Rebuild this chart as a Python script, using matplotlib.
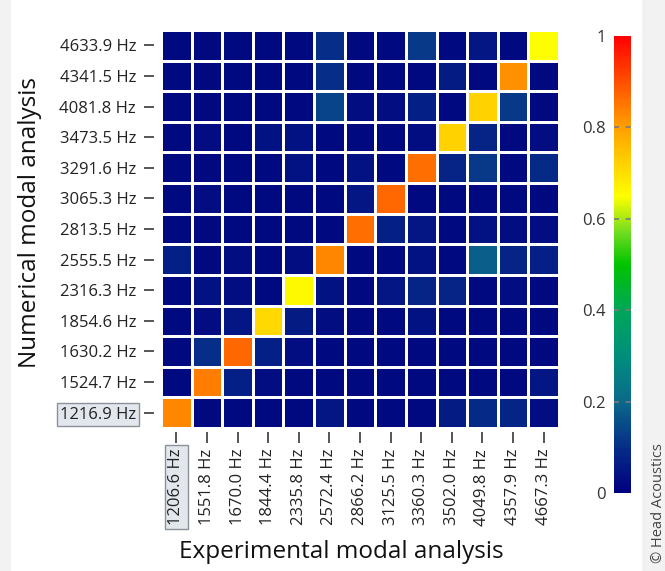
import numpy as np
import matplotlib
matplotlib.use("Agg")
from matplotlib import pyplot as plt
from matplotlib.colors import LinearSegmentedColormap
from matplotlib.patches import Rectangle
from matplotlib.lines import Line2D

plt.rcParams['font.family'] = ['Open Sans', 'DejaVu Sans']

# numerical modes (rows, bottom to top) and experimental modes (columns)
num_modes = ["1216.9 Hz", "1524.7 Hz", "1630.2 Hz", "1854.6 Hz", "2316.3 Hz",
             "2555.5 Hz", "2813.5 Hz", "3065.3 Hz", "3291.6 Hz", "3473.5 Hz",
             "4081.8 Hz", "4341.5 Hz", "4633.9 Hz"]
exp_modes = ["1206.6 Hz", "1551.8 Hz", "1670.0 Hz", "1844.4 Hz", "2335.8 Hz",
             "2572.4 Hz", "2866.2 Hz", "3125.5 Hz", "3360.3 Hz", "3502.0 Hz",
             "4049.8 Hz", "4357.9 Hz", "4667.3 Hz"]

# MAC values, one row per numerical mode (same order as num_modes)
mac = [
    [0.83, 0.02, 0.02, 0.02, 0.02, 0.05, 0.02, 0.02, 0.02, 0.06, 0.09, 0.08, 0.03],
    [0.02, 0.84, 0.07, 0.03, 0.02, 0.02, 0.02, 0.02, 0.02, 0.02, 0.02, 0.02, 0.05],
    [0.02, 0.10, 0.87, 0.07, 0.03, 0.02, 0.02, 0.02, 0.02, 0.02, 0.02, 0.02, 0.02],
    [0.02, 0.03, 0.05, 0.71, 0.06, 0.03, 0.02, 0.02, 0.04, 0.02, 0.02, 0.02, 0.02],
    [0.02, 0.04, 0.03, 0.02, 0.66, 0.04, 0.02, 0.05, 0.08, 0.08, 0.02, 0.03, 0.02],
    [0.07, 0.02, 0.03, 0.02, 0.03, 0.83, 0.02, 0.02, 0.04, 0.02, 0.18, 0.08, 0.07],
    [0.02, 0.02, 0.02, 0.02, 0.02, 0.02, 0.86, 0.07, 0.05, 0.02, 0.04, 0.03, 0.03],
    [0.02, 0.03, 0.02, 0.02, 0.02, 0.02, 0.05, 0.87, 0.02, 0.02, 0.02, 0.02, 0.02],
    [0.02, 0.02, 0.02, 0.02, 0.04, 0.02, 0.04, 0.02, 0.86, 0.08, 0.12, 0.02, 0.09],
    [0.02, 0.03, 0.02, 0.04, 0.04, 0.02, 0.02, 0.02, 0.03, 0.72, 0.08, 0.02, 0.03],
    [0.02, 0.02, 0.02, 0.02, 0.02, 0.14, 0.03, 0.03, 0.07, 0.02, 0.72, 0.12, 0.02],
    [0.02, 0.02, 0.02, 0.02, 0.02, 0.10, 0.02, 0.02, 0.02, 0.06, 0.02, 0.82, 0.02],
    [0.02, 0.02, 0.02, 0.02, 0.02, 0.10, 0.02, 0.02, 0.12, 0.02, 0.05, 0.02, 0.65],
]

cbar_ticks = [0, 0.2, 0.4, 0.6, 0.8, 1]

cmap = LinearSegmentedColormap.from_list("mac", [
    (0.0, "#00007f"), (0.1, "#062e88"), (0.2, "#0a6a8a"), (0.3, "#008f7c"),
    (0.4, "#00a658"), (0.5, "#00c400"), (0.57, "#70dc20"), (0.65, "#ffff00"),
    (0.8, "#ffa000"), (1.0, "#ff0000")])

W, H = 665, 571
fig = plt.figure(figsize=(W / 100, H / 100), dpi=100)

# light side strips of the screenshot frame
fig.patches.append(Rectangle((642 / W, 0), 1, 1, transform=fig.transFigure,
                             fc="#f2f2f2", ec="none", zorder=-5))
fig.patches.append(Rectangle((0, 0), 11 / W, 1, transform=fig.transFigure,
                             fc="#f2f2f2", ec="none", zorder=-5))

ax = fig.add_axes([161 / W, 1 - 428 / H, 398 / W, 398 / H])
data = np.array(mac)
mesh = ax.pcolormesh(data, cmap=cmap, vmin=0, vmax=1,
                     edgecolors="white", linewidth=2.0)
ax.set_xlim(0, len(exp_modes))
ax.set_ylim(0, len(num_modes))
for s in ax.spines.values():
    s.set_visible(False)
ax.spines['left'].set_position(('outward', 5))
ax.spines['bottom'].set_position(('outward', 3))

ax.set_xticks(np.arange(len(exp_modes)) + 0.5)
ax.set_xticklabels(exp_modes, rotation=90, fontsize=12, color="#222222")
ax.set_yticks(np.arange(len(num_modes)) + 0.5)
ax.set_yticklabels(num_modes, fontsize=12, color="#222222")
ax.tick_params(axis='y', length=7, width=1.4, color="#555555", pad=6)
ax.tick_params(axis='x', length=8, width=1.4, color="#555555", pad=4)

box = dict(boxstyle="square,pad=0.2", fc="#e2e7ee", ec="#8c9199", lw=1.0)
ax.get_yticklabels()[0].set_bbox(box)
ax.get_xticklabels()[0].set_bbox(box)

fig.text(30 / W, 1 - 222 / H, "Numerical modal analysis", rotation=90,
         fontsize=17.5, color="#111111", ha="center", va="center")
fig.text(341 / W, 1 - 552 / H, "Experimental modal analysis",
         fontsize=17.5, color="#111111", ha="center", va="center")

# colour bar
cax = fig.add_axes([614 / W, 1 - 493 / H, 17 / W, 457 / H])
cb = fig.colorbar(mesh, cax=cax, ticks=cbar_ticks)
cb.outline.set_visible(False)
cax.yaxis.set_ticks_position('left')
cax.tick_params(length=0, pad=6, labelsize=12, labelcolor="#333333")
cb.set_ticklabels(["0", "0.2", "0.4", "0.6", "0.8", "1"])
# dashed tick marks across the bar
for t in cbar_ticks[1:-1]:
    cax.add_line(Line2D([0, 1], [t, t], transform=cax.get_yaxis_transform(),
                        color="#7a7a7a", lw=1.2, ls=(0, (3, 4)), zorder=10))

fig.text(659 / W, 8 / H, "\u00a9 Head Acoustics", rotation=90, fontsize=10.5,
         color="#444444", ha="center", va="bottom")

fig.savefig("out.png", dpi=100)
